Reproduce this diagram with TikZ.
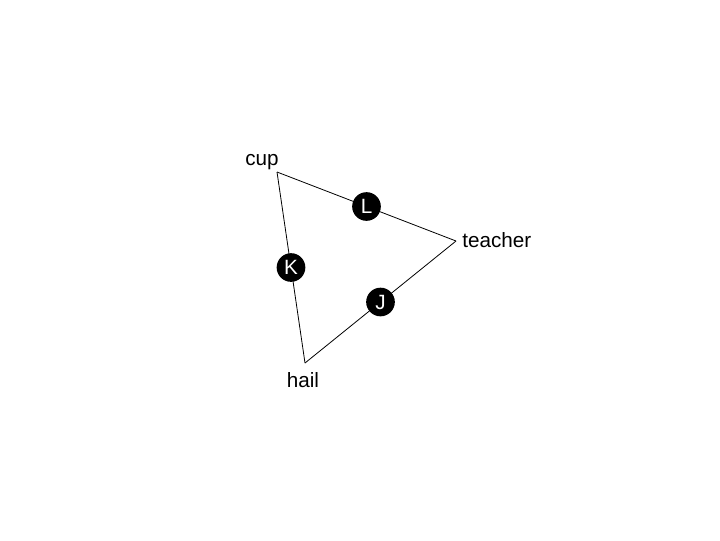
\documentclass[tikz,border=0pt]{standalone}
\usepackage{fontspec}
\setmainfont{Liberation Sans}
\usetikzlibrary{positioning}

\tikzset{
  lbl/.style={inner sep=0pt, anchor=base, font=\fontsize{15.5}{18}\selectfont},
  ball/.style={circle, fill=black, text=white, inner sep=0pt, minimum size=21.5pt,
               font=\fontsize{15.5}{18}\selectfont},
}

\begin{document}
\begin{tikzpicture}[x=0.75pt, y=-0.75pt, line width=0.6pt]
    \useasboundingbox (0,0) rectangle (720,540);

    \coordinate (cup) at (277,172);
    \coordinate (teacher) at (456,241);
    \coordinate (hail) at (305,363);

    \node[lbl] (cuplbl) at (262,165) {cup};
    \node[lbl, anchor=base west] (teacherlbl) at (462,247) {teacher};
    \node[lbl] (haillbl) at (303,387) {hail};

    \draw (cup) -- node[ball] (L) {L} (teacher);
    \draw (cup) -- node[ball] (K) {K} (hail);
    \draw (teacher) -- node[ball] (J) {J} (hail);
\end{tikzpicture}
\end{document}
